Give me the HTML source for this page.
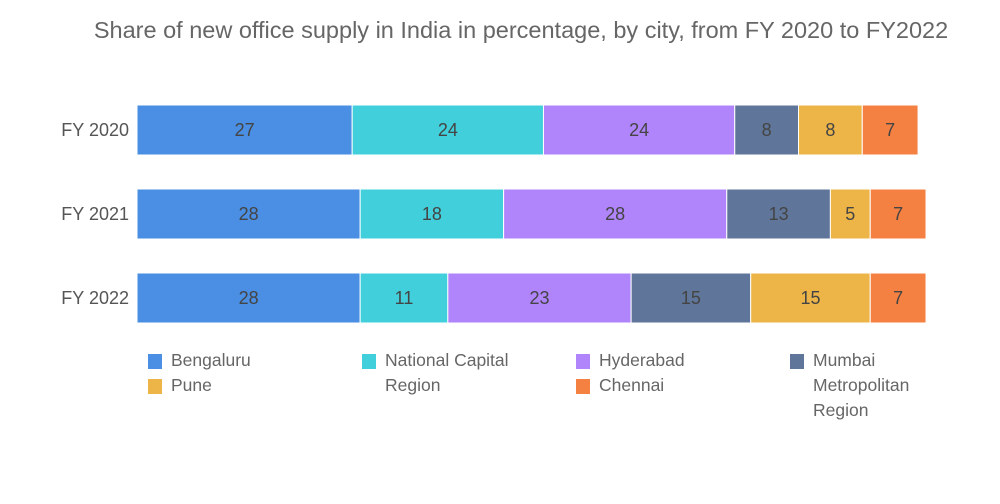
<!DOCTYPE html>
<html><head><meta charset="utf-8"><style>
body{margin:0;background:#fff;font-family:"Liberation Sans",sans-serif;}
#wrap{position:relative;width:1000px;height:504px;overflow:hidden;}
.title{position:absolute;left:0;width:1000px;top:17px;text-align:center;font-size:23.5px;color:#666;padding-left:42px;box-sizing:border-box;white-space:nowrap;}
.leg{position:absolute;font-size:17.5px;color:#666;line-height:25px;}
.sw{position:absolute;width:14px;height:15px;}
</style></head><body>
<div id="wrap">
<div class="title">Share of new office supply in India in percentage, by city, from FY 2020 to FY2022</div>
<svg id="svg" width="1000" height="504" style="position:absolute;left:0;top:0"></svg>
<div id="legend"></div>
</div>
<script>
const categories=["FY 2020","FY 2021","FY 2022"];
const seriesNames=["Bengaluru","National Capital Region","Hyderabad","Mumbai Metropolitan Region","Pune","Chennai"];
const colors=["#4a8fe3","#41d0db","#b084fb","#5f7599","#edb548","#f48142"];
const bengaluru=[27,28,28];
const ncr=[24,18,11];
const hyderabad=[24,28,23];
const mumbai=[8,13,15];
const pune=[8,5,15];
const chennai=[7,7,7];
const series=[bengaluru,ncr,hyderabad,mumbai,pune,chennai];
const x0=137,scale=7.97;
const xs=v=>v*scale;
const ys=i=>105+i*84;
const bh=50;
const svg=document.getElementById('svg');
const NS="http://www.w3.org/2000/svg";
categories.forEach((c,i)=>{
  const t=document.createElementNS(NS,'text');
  t.setAttribute('x',129);t.setAttribute('y',ys(i)+bh/2+6);
  t.setAttribute('text-anchor','end');t.setAttribute('font-size','18');t.setAttribute('fill','#555');
  t.setAttribute('font-family','Liberation Sans, sans-serif');
  t.textContent=c;
  
  
  svg.appendChild(t);
  let acc=0;
  series.forEach((s,k)=>{
    const v=s[i];
    const r=document.createElementNS(NS,'rect');
    r.setAttribute('x',x0+xs(acc));r.setAttribute('y',ys(i));
    r.setAttribute('width',xs(v));r.setAttribute('height',bh);
    r.setAttribute('fill',colors[k]);r.setAttribute('stroke','#fff');r.setAttribute('stroke-width','1');
    
    
    svg.appendChild(r);
    const l=document.createElementNS(NS,'text');
    l.setAttribute('x',x0+xs(acc+v/2));l.setAttribute('y',ys(i)+bh/2+6);
    l.setAttribute('text-anchor','middle');l.setAttribute('font-size','18');l.setAttribute('fill','#444');
    l.setAttribute('font-family','Liberation Sans, sans-serif');
    l.textContent=v;
    
    
    svg.appendChild(l);
    acc+=v;
  });
});
const legPos=[[148,350],[362,350],[576,350],[790,350],[148,375],[576,375]];
const legText=["Bengaluru","National Capital<br>Region","Hyderabad","Mumbai<br>Metropolitan<br>Region","Pune","Chennai"];
const lg=document.getElementById('legend');
[0,1,2,3,4,5].forEach(k=>{
  const [lx,ly]=legPos[k];
  const sw=document.createElement('div');sw.className='sw';
  sw.style.left=lx+'px';sw.style.top=(ly+4)+'px';sw.style.background=colors[k];
  
  
  lg.appendChild(sw);
  const t=document.createElement('div');t.className='leg';
  t.style.left=(lx+23)+'px';t.style.top=(ly-2)+'px';t.innerHTML=legText[k];
  
  
  lg.appendChild(t);
});
</script>
</body></html>
